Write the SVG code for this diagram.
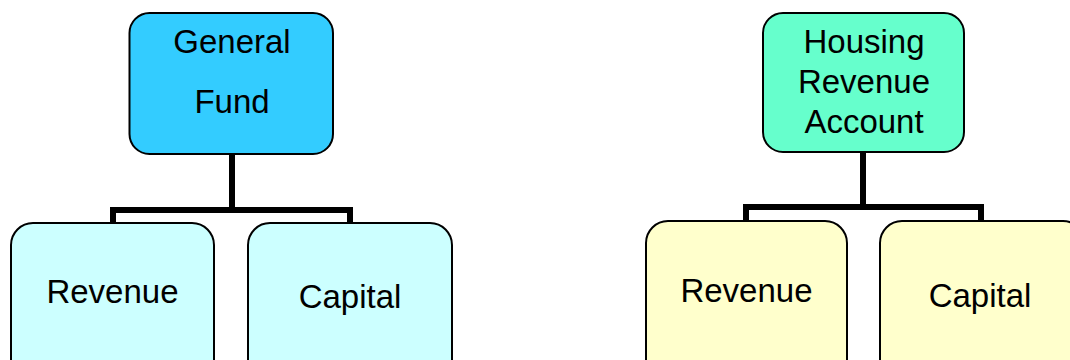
<svg xmlns="http://www.w3.org/2000/svg" width="1070" height="360" viewBox="0 0 1070 360">
<style>
.box{stroke:#000;stroke-width:2}
.t{font-family:"Liberation Sans",Arial,sans-serif;font-size:33px;fill:#000;text-anchor:middle}
.c{fill:none;stroke:#000;stroke-width:6}
</style>
<rect width="1070" height="360" fill="#fff"/>
<g id="connectors">
<path class="c" d="M232 154V210M113 223V210H350V223"/>
<path class="c" d="M863 152V207M746 221V207H981V221"/>
</g>
<g id="general-fund">
<rect class="box" x="129.5" y="13" width="203.5" height="141" rx="20" fill="#33CCFF"/>
<text class="t" x="232" y="53">General</text>
<text class="t" x="232" y="113">Fund</text>
</g>
<g id="gf-revenue">
<rect class="box" x="11" y="223" width="203" height="160" rx="22" fill="#CCFFFF"/>
<text class="t" x="112.5" y="303">Revenue</text>
</g>
<g id="gf-capital">
<rect class="box" x="248" y="223" width="204" height="160" rx="22" fill="#CCFFFF"/>
<text class="t" x="350" y="308">Capital</text>
</g>
<g id="hra">
<rect class="box" x="763" y="13" width="201" height="139" rx="20" fill="#66FFCC"/>
<text class="t" x="864" y="53">Housing</text>
<text class="t" x="864" y="93">Revenue</text>
<text class="t" x="864" y="133">Account</text>
</g>
<g id="hra-revenue">
<rect class="box" x="646" y="221" width="201" height="160" rx="22" fill="#FFFFCC"/>
<text class="t" x="746.5" y="302">Revenue</text>
</g>
<g id="hra-capital">
<rect class="box" x="880" y="221" width="205" height="160" rx="22" fill="#FFFFCC"/>
<text class="t" x="980" y="307">Capital</text>
</g>
</svg>
